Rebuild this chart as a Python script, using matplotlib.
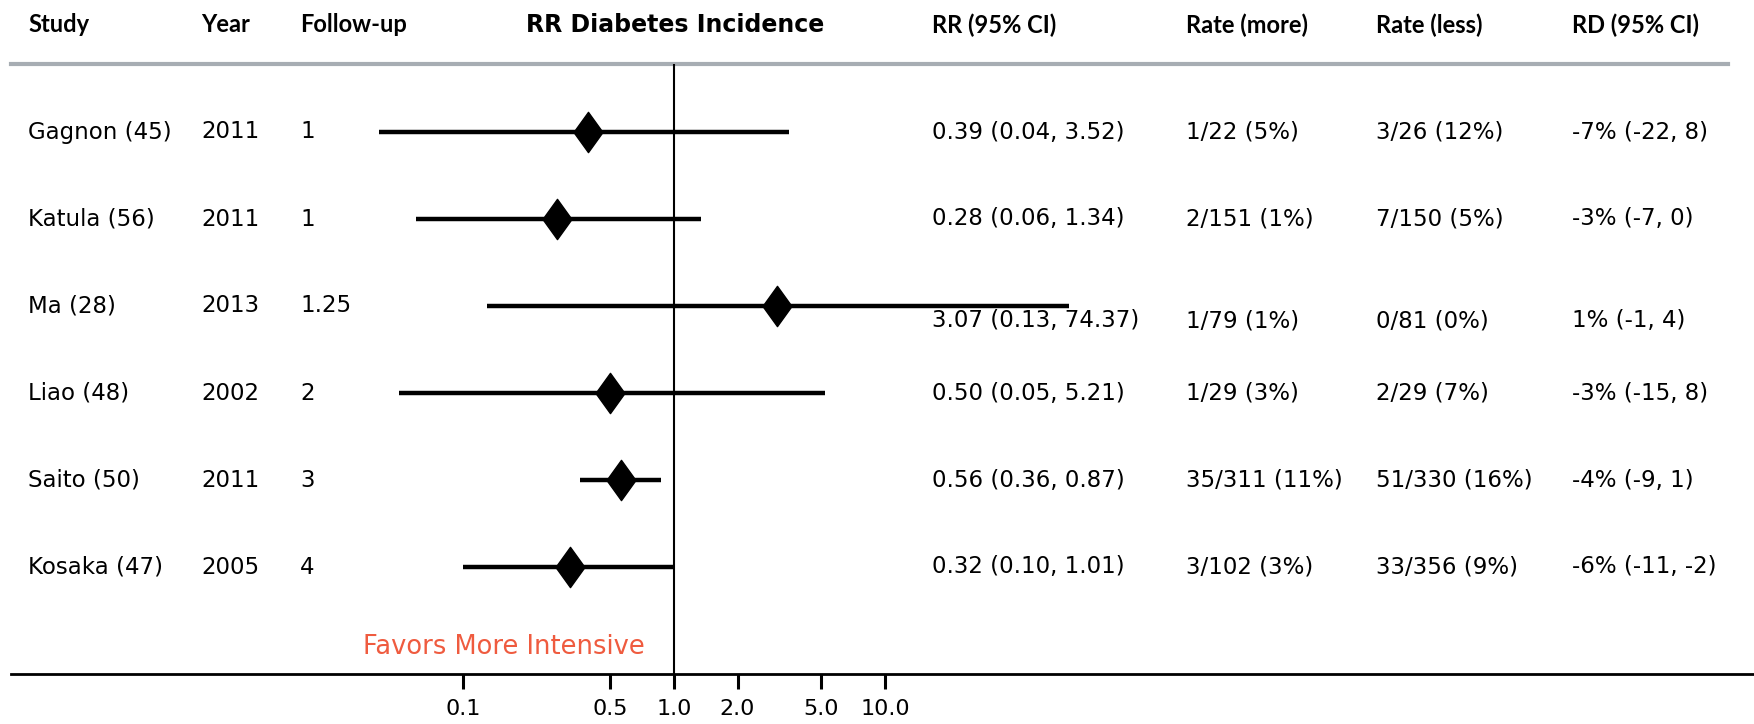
import matplotlib
matplotlib.use("Agg")
import matplotlib.pyplot as plt
from matplotlib.path import Path
import numpy as np

plt.rcParams['font.family'] = ['DejaVu Sans']

# data
studies = ['Gagnon (45)', 'Katula (56)', 'Ma (28)', 'Liao (48)', 'Saito (50)', 'Kosaka (47)']
years = ['2011', '2011', '2013', '2002', '2011', '2005']
followup = ['1', '1', '1.25', '2', '3', '4']
rr = [0.39, 0.28, 3.07, 0.50, 0.56, 0.32]
rr_lo = [0.04, 0.06, 0.13, 0.05, 0.36, 0.10]
rr_hi = [3.52, 1.34, 74.37, 5.21, 0.87, 1.01]
rr_text = ['0.39 (0.04, 3.52)', '0.28 (0.06, 1.34)', '3.07 (0.13, 74.37)',
           '0.50 (0.05, 5.21)', '0.56 (0.36, 0.87)', '0.32 (0.10, 1.01)']
rate_more = ['1/22 (5%)', '2/151 (1%)', '1/79 (1%)', '1/29 (3%)', '35/311 (11%)', '3/102 (3%)']
rate_less = ['3/26 (12%)', '7/150 (5%)', '0/81 (0%)', '2/29 (7%)', '51/330 (16%)', '33/356 (9%)']
rd_text = ['-7% (-22, 8)', '-3% (-7, 0)', '1% (-1, 4)', '-3% (-15, 8)', '-4% (-9, 1)', '-6% (-11, -2)']
headers = ['Study', 'Year', 'Follow-up', 'RR Diabetes Incidence', 'RR (95% CI)',
           'Rate (more)', 'Rate (less)', 'RD (95% CI)']
tick_vals = [0.1, 0.5, 1.0, 2.0, 5.0, 10.0]
tick_labels = ['0.1', '0.5', '1.0', '2.0', '5.0', '10.0']

W, H = 1754, 724
fig = plt.figure(figsize=(W / 100, H / 100), dpi=100)
ax = fig.add_axes([0, 0, 1, 1])

# log x: 1.0 at 674 px, 211 px per decade
x0, dec = 674, 211
ax.set_xscale('log')
ax.set_xlim(10 ** ((0 - x0) / dec), 10 ** ((W - x0) / dec))
# rows: first at 132 px, 87 px apart
y0, dy = 132, 87
ax.set_ylim((H - y0) / dy, (0 - y0) / dy)

def py(p):
    return (p - y0) / dy

rows = np.arange(len(studies))

# diamond marker, taller than wide
diamond = Path([(0, 1), (0.72, 0), (0, -1), (-0.72, 0), (0, 1)],
               [Path.MOVETO, Path.LINETO, Path.LINETO, Path.LINETO, Path.CLOSEPOLY])

ax.hlines(rows, rr_lo, rr_hi, color='black', lw=3.2, zorder=3)
ax.plot(rr, rows, linestyle='none', marker=diamond, markersize=29,
        color='black', zorder=4)

# reference line and header rule
ax.vlines(1.0, py(64), py(674), color='black', lw=1.5, zorder=2)
ax.axhline(py(64), xmin=11 / W, xmax=1728 / W, color='#a7adb3', lw=3, zorder=1)

# bottom axis
for s in ['top', 'left', 'right']:
    ax.spines[s].set_visible(False)
ax.spines['bottom'].set_position(('data', py(674)))
ax.spines['bottom'].set_linewidth(2)
ax.spines['bottom'].set_bounds(10 ** ((11 - x0) / dec), 10 ** ((W - x0) / dec))
ax.set_xticks(tick_vals)
ax.set_xticklabels(tick_labels, fontsize=16)
ax.xaxis.set_minor_locator(matplotlib.ticker.NullLocator())
ax.tick_params(axis='x', direction='out', length=11, width=2.2, pad=7)
ax.set_yticks([])

tr = ax.get_yaxis_transform()
fs = 16.5

# headers
hx = [28, 201, 300, 675, 932, 1186, 1376, 1572]
for x, h in zip(hx, headers):
    if h.startswith('RR Diabetes'):
        ax.text(x / W, py(25), h, transform=tr, ha='center', va='center',
                fontsize=17, fontweight='bold')
    else:
        ax.text(x / W, py(25), h, transform=tr, ha='left', va='center',
                fontsize=17, fontweight='bold', family=['Lato', 'DejaVu Sans'])

# rows of text
for i in rows:
    ax.text(28 / W, i, studies[i], transform=tr, va='center', fontsize=fs)
    ax.text(201 / W, i, years[i], transform=tr, va='center', fontsize=fs)
    ax.text(300 / W, i, followup[i], transform=tr, va='center', fontsize=fs)
    yy = i + (py(319) - py(304) if studies[i].startswith('Ma') else 0)
    ax.text(932 / W, yy, rr_text[i], transform=tr, va='center', fontsize=fs)
    ax.text(1186 / W, yy, rate_more[i], transform=tr, va='center', fontsize=fs)
    ax.text(1376 / W, yy, rate_less[i], transform=tr, va='center', fontsize=fs)
    ax.text(1572 / W, yy, rd_text[i], transform=tr, va='center', fontsize=fs)

ax.text(645 / W, py(647), 'Favors More Intensive', transform=tr, ha='right',
        va='center', fontsize=18.5, color='#ef5b3f')

fig.savefig('out.png', dpi=100)
